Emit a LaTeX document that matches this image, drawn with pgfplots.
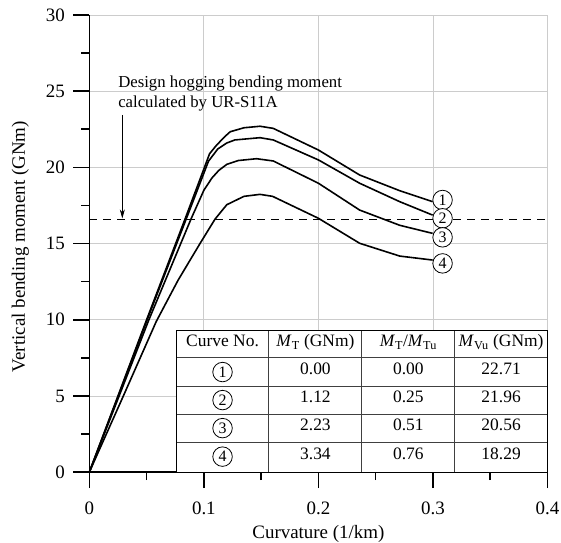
\documentclass[border=0pt]{standalone}
\usepackage{fontspec}
\setmainfont{Liberation Serif}
\usepackage{pgfplots}
\pgfplotsset{compat=1.18}
\usetikzlibrary{arrows.meta}
\begin{document}
\begin{tikzpicture}
\begin{axis}[name=ax, scale only axis, width=458bp, height=457bp,
  xmin=0, xmax=0.4, ymin=0, ymax=30,
  axis lines=left, axis line style={-, line width=1.6bp},
  xtick={0,0.1,0.2,0.3,0.4}, ytick={0,5,10,15,20,25,30},
  minor xtick={0.05,0.15,0.25,0.35}, minor ytick={2.5,7.5,12.5,17.5,22.5,27.5},
  tick align=outside, major tick length=16bp, minor tick length=8bp,
  tick style={black, line width=1.6bp},
  grid=major, major grid style={line width=0.9bp, black!20},
  /pgf/number format/assume math mode=true,
  ticklabel style={font=\fontsize{19}{21}\selectfont},
  xticklabel style={/pgf/number format/fixed, yshift=-10bp},
  yticklabel style={xshift=-5bp},
  every axis x label/.style={at={(axis description cs:0.5,0)}, anchor=base, yshift=-66bp, font=\fontsize{19}{21}\selectfont},
  every axis y label/.style={at={(axis description cs:0,0.5)}, anchor=center, rotate=90, yshift=69bp, xshift=-3bp, font=\fontsize{19}{21}\selectfont},
  xlabel={Curvature (1/km)}, ylabel={Vertical bending moment (GNm)},
  clip=false,
]
% table background
\fill[white] (axis cs:0.0757,0) rectangle (axis cs:0.4,9.32);
% curves
\addplot[black, line width=1.6bp] coordinates {(0,0) (0.05,10) (0.0835,16.6) (0.105,20.9) (0.111,21.45) (0.118,22.0) (0.123,22.34) (0.135,22.6) (0.149,22.7) (0.1606,22.56) (0.2,21.14) (0.236,19.5) (0.271,18.47) (0.2997,17.75)};
\addplot[black, line width=1.6bp] coordinates {(0,0) (0.0505,10) (0.0845,16.6) (0.104,20.4) (0.112,21.2) (0.12,21.6) (0.127,21.8) (0.149,21.95) (0.1606,21.8) (0.2,20.49) (0.236,18.96) (0.271,17.75) (0.2997,16.87)};
\addplot[black, line width=1.6bp] coordinates {(0,0) (0.052,10) (0.0887,16.6) (0.1,18.5) (0.107,19.3) (0.113,19.8) (0.12,20.2) (0.13,20.45) (0.146,20.57) (0.1606,20.42) (0.2,18.96) (0.236,17.2) (0.271,16.2) (0.2997,15.67)};
\addplot[black, line width=1.6bp] coordinates {(0,0) (0.0297,5) (0.0585,9.9) (0.0775,12.6) (0.0966,15) (0.1097,16.6) (0.12,17.55) (0.135,18.1) (0.149,18.23) (0.16,18.1) (0.2,16.66) (0.236,15.02) (0.271,14.18) (0.2997,13.92)};
% design line
\addplot[black, line width=1bp, dash pattern=on 8bp off 6bp] coordinates {(0,16.6) (0.4,16.6)};
\draw[-{Stealth[length=9bp,width=5bp]}, line width=0.8bp] (axis cs:0.0288,23.45) -- (axis cs:0.0288,16.65);
\node[anchor=base west, inner sep=0, font=\fontsize{16.8}{19}\selectfont] at (axis cs:0.0251,25.25) {Design hogging bending moment};
\node[anchor=base west, inner sep=0, font=\fontsize{16.8}{19}\selectfont] at (axis cs:0.0251,23.95) {calculated by UR-S11A};
% curve labels
\tikzset{cn/.style={circle, draw, line width=0.8bp, inner sep=0pt, minimum size=19.5bp, font=\fontsize{16}{17}\selectfont, fill=white}}
\node[cn] at (axis cs:0.3084,17.86) {1};
\node[cn] at (axis cs:0.3084,16.66) {2};
\node[cn] at (axis cs:0.3084,15.41) {3};
\node[cn] at (axis cs:0.3084,13.70) {4};
% table lines
\draw[black!75, line width=0.9bp] (axis cs:0.0757,1.97) -- (axis cs:0.4,1.97);
\draw[black!75, line width=0.9bp] (axis cs:0.0757,3.81) -- (axis cs:0.4,3.81);
\draw[black!75, line width=0.9bp] (axis cs:0.0757,5.65) -- (axis cs:0.4,5.65);
\draw[black!75, line width=0.9bp] (axis cs:0.0757,7.5) -- (axis cs:0.4,7.5);
\draw[black!75, line width=0.9bp] (axis cs:0.1568,0) -- (axis cs:0.1568,9.32);
\draw[black!75, line width=0.9bp] (axis cs:0.238,0) -- (axis cs:0.238,9.32);
\draw[black!75, line width=0.9bp] (axis cs:0.319,0) -- (axis cs:0.319,9.32);
\draw[black, line width=1bp] (axis cs:0.0757,0) rectangle (axis cs:0.4,9.32);
\tikzset{tc/.style={font=\fontsize{17.5}{20}\selectfont, inner sep=0pt, text height=1.5ex, text depth=0.3ex}}
\node[tc] at (axis cs:0.1163,8.41) {Curve No.};
\node[tc] at (axis cs:0.1974,8.41) {\textit{M}\textsubscript{T} (GNm)};
\node[tc] at (axis cs:0.2785,8.41) {\textit{M}\textsubscript{T}/\textit{M}\textsubscript{Tu}};
\node[tc] at (axis cs:0.3595,8.41) {\textit{M}\textsubscript{Vu} (GNm)};
\node[cn, fill=none] at (axis cs:0.1163,6.57) {1};
\node[cn, fill=none] at (axis cs:0.1163,4.73) {2};
\node[cn, fill=none] at (axis cs:0.1163,2.89) {3};
\node[cn, fill=none] at (axis cs:0.1163,1.02) {4};
\node[tc] at (axis cs:0.1974,6.57) {0.00};
\node[tc] at (axis cs:0.1974,4.73) {1.12};
\node[tc] at (axis cs:0.1974,2.89) {2.23};
\node[tc] at (axis cs:0.1974,1.02) {3.34};
\node[tc] at (axis cs:0.2785,6.57) {0.00};
\node[tc] at (axis cs:0.2785,4.73) {0.25};
\node[tc] at (axis cs:0.2785,2.89) {0.51};
\node[tc] at (axis cs:0.2785,1.02) {0.76};
\node[tc] at (axis cs:0.3595,6.57) {22.71};
\node[tc] at (axis cs:0.3595,4.73) {21.96};
\node[tc] at (axis cs:0.3595,2.89) {20.56};
\node[tc] at (axis cs:0.3595,1.02) {18.29};
\end{axis}
\pgfresetboundingbox
\path[use as bounding box] ([shift={(-89.3bp,-70bp)}]ax.south west) rectangle ([shift={(13.5bp,15bp)}]ax.north east);
\end{tikzpicture}
\end{document}
